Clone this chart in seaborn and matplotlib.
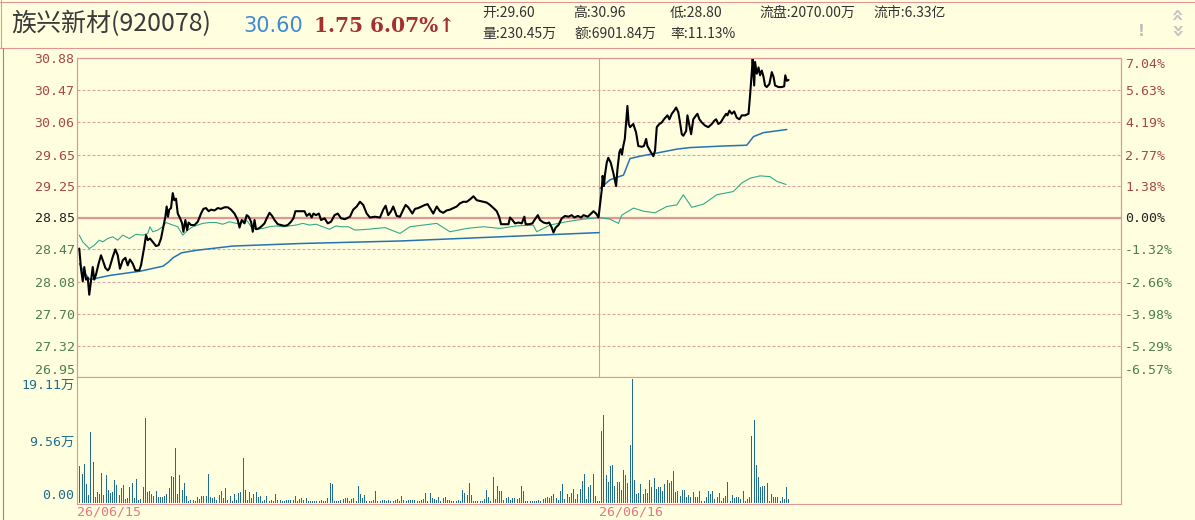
import matplotlib

matplotlib.use("Agg")
import matplotlib.pyplot as plt
import numpy as np
import seaborn as sns
from matplotlib.lines import Line2D

sns.set_style("white")
plt.rcParams["font.family"] = ["Noto Sans CJK SC", "DejaVu Sans"]
plt.rcParams["axes.unicode_minus"] = False

# ---------------- datos ----------------
stock_name = "族兴新材(920078)"
last_price = "30.60"
change_text = "1.75 6.07%↑"
info_row1 = ["开:29.60", "高:30.96", "低:28.80", "流盘:2070.00万", "流市:6.33亿"]
info_row2 = ["量:230.45万", "额:6901.84万", "率:11.13%"]

pre_close = 28.85
price_ticks = [26.95, 27.32, 27.70, 28.08, 28.47, 28.85, 29.25, 29.65, 30.06, 30.47, 30.88]
price_labels = ["26.95", "27.32", "27.70", "28.08", "28.47", "28.85", "29.25", "29.65", "30.06", "30.47", "30.88"]
pct_labels = ["-6.57%", "-5.29%", "-3.98%", "-2.66%", "-1.32%", "0.00%", "1.38%", "2.77%", "4.19%", "5.63%", "7.04%"]
vol_ticks = [0.0, 9.56, 19.11]
vol_labels = ["0.00", "9.56万", "19.11万"]
date_ticks = [0, 240]
date_labels = ["26/06/15", "26/06/16"]

# precio (minuto, valor)
price_t = [
    0.9, 1.7, 2.5, 3.2, 4.0, 4.8, 5.5, 6.3, 7.1, 7.8, 8.6, 9.8, 10.9, 12.0, 12.9, 14.0, 14.7, 16.3, 17.5,
    18.6, 19.6, 20.9, 22.1, 23.2, 24.2, 25.5, 26.7, 28.5, 29.3, 30.8, 31.6, 32.4, 33.4, 34.7, 36.2, 37.4,
    38.5, 39.6, 40.5, 41.1, 41.7, 42.3, 43.1, 43.9, 44.6, 45.4, 46.2, 47.3, 48.2, 48.8, 49.7, 50.5, 51.2,
    52.3, 53.9, 55.4, 56.9, 58.0, 59.2, 60.4, 61.5, 63.1, 64.6, 66.1, 67.7, 69.2, 70.7, 72.3, 73.8, 74.6,
    75.6, 76.9, 77.9, 78.8, 79.9, 80.7, 81.5, 82.2, 83.5, 84.5, 86.1, 87.1, 88.4, 89.6, 90.7, 92.2, 93.7,
    95.3, 96.8, 98.3, 99.4, 100.3, 102.2, 104.5, 105.5, 106.8, 107.8, 108.6, 109.8, 111.1, 112.1, 113.7,
    115.2, 116.7, 118.3, 119.8, 121.3, 123.1, 125.4, 126.9, 128.5, 130.0, 131.5, 133.1, 134.6, 136.9,
    139.2, 140.7, 141.8, 143.0, 144.3, 145.3, 146.9, 148.4, 149.9, 151.0, 152.2, 154.1, 155.3, 156.8,
    158.4, 159.9, 161.1, 162.2, 163.7, 165.3, 166.8, 168.3, 169.9, 171.4, 173.0, 174.5, 176.0, 177.5,
    179.1, 180.6, 182.2, 183.7, 185.2, 186.8, 188.3, 189.8, 191.4, 192.9, 194.0, 194.9, 196.7, 198.3,
    199.0, 200.1, 201.3, 202.9, 204.4, 205.6, 206.2, 207.8, 209.3, 210.5, 211.8, 212.8, 214.4, 215.9,
    217.0, 218.2, 219.0, 220.0, 221.3, 222.8, 224.3, 225.9, 227.4, 228.6, 230.2, 231.7, 232.8, 234.8,
    236.3, 237.4, 238.6, 239.7,
    240.4, 241.2, 241.6, 242.2, 242.7, 243.5, 244.2, 245.3, 246.5, 247.8, 248.4, 249.3, 249.9, 250.5,
    251.1, 251.8, 252.4, 253.0, 253.6, 254.2, 255.7, 257.0, 258.0, 259.6, 260.6, 261.6, 262.2, 263.4,
    264.9, 265.7, 266.5, 267.7, 268.8, 269.8, 271.4, 272.3, 273.4, 274.5, 275.4, 276.4, 277.2, 278.0,
    278.7, 280.0, 280.6, 281.5, 282.3, 283.3, 284.6, 285.2, 286.1, 287.2, 288.7, 290.2, 291.8, 292.9,
    293.8, 294.8, 295.9, 297.2, 298.4, 299.0, 299.9, 301.0, 302.1, 303.3, 304.5, 305.6, 307.1, 308.7,
    309.4, 310.2, 310.6, 311.3, 311.7, 312.5, 313.3, 314.0, 314.8, 315.6, 316.3, 317.1, 318.3, 319.4,
    320.2, 320.9, 322.5, 324.0, 325.1, 325.6, 326.3, 327.1,
]
price_v = [
    28.48, 28.24, 28.09, 28.26, 28.11, 28.13, 27.93, 28.09, 28.26, 28.11, 28.17, 28.30, 28.40, 28.32, 28.25,
    28.22, 28.24, 28.38, 28.47, 28.40, 28.24, 28.34, 28.37, 28.28, 28.35, 28.30, 28.22, 28.22, 28.28, 28.50,
    28.64, 28.58, 28.60, 28.56, 28.51, 28.52, 28.60, 28.74, 28.86, 28.99, 28.86, 28.95, 28.97, 29.16, 29.07,
    29.09, 28.90, 28.84, 28.78, 28.68, 28.82, 28.70, 28.79, 28.76, 28.76, 28.80, 28.90, 28.96, 28.97, 28.93,
    28.95, 28.94, 28.97, 28.96, 28.98, 28.98, 28.95, 28.90, 28.82, 28.73, 28.82, 28.78, 28.88, 28.86, 28.80,
    28.68, 28.82, 28.71, 28.72, 28.74, 28.78, 28.84, 28.91, 28.87, 28.82, 28.77, 28.76, 28.75, 28.76, 28.80,
    28.84, 28.93, 28.93, 28.93, 28.87, 28.90, 28.85, 28.90, 28.88, 28.90, 28.82, 28.84, 28.78, 28.80, 28.88,
    28.90, 28.84, 28.83, 28.86, 28.95, 28.99, 29.05, 29.01, 28.90, 28.85, 28.86, 28.85, 28.95, 29.00, 28.88,
    28.93, 28.99, 28.87, 28.86, 28.95, 29.01, 28.98, 28.90, 28.96, 28.97, 28.99, 29.01, 29.02, 28.97, 28.90,
    28.99, 28.93, 28.91, 28.94, 28.95, 28.97, 28.99, 29.03, 29.05, 29.05, 29.08, 29.12, 29.07, 29.06, 29.05,
    29.04, 29.01, 28.97, 28.93, 28.86, 28.77, 28.77, 28.77, 28.85, 28.82, 28.78, 28.79, 28.78, 28.86, 28.77,
    28.77, 28.78, 28.83, 28.88, 28.82, 28.79, 28.78, 28.79, 28.73, 28.67, 28.73, 28.76, 28.84, 28.87, 28.86,
    28.88, 28.85, 28.87, 28.85, 28.88, 28.86, 28.90, 28.93, 28.90, 28.85,
    29.01, 29.20, 29.38, 29.25, 29.40, 29.55, 29.61, 29.55, 29.42, 29.25, 29.46, 29.68, 29.72, 29.65, 29.76,
    29.85, 30.06, 30.27, 30.04, 30.00, 30.04, 29.93, 29.76, 29.75, 29.76, 29.85, 29.76, 29.70, 29.63, 29.70,
    30.00, 30.04, 30.06, 30.10, 30.15, 30.10, 30.17, 30.21, 30.25, 30.19, 30.06, 29.91, 29.89, 29.95, 30.15,
    30.02, 29.91, 30.10, 30.15, 30.17, 30.10, 30.06, 30.02, 30.00, 30.04, 30.08, 30.10, 30.04, 30.06, 30.12,
    30.17, 30.15, 30.21, 30.17, 30.20, 30.12, 30.10, 30.15, 30.15, 30.17, 30.40, 30.70, 30.87, 30.53, 30.83,
    30.68, 30.76, 30.66, 30.72, 30.64, 30.53, 30.51, 30.55, 30.70, 30.64, 30.53, 30.51, 30.51, 30.52, 30.66,
    30.59, 30.60,
]

# precio medio, un tramo por dia
avg1_t = [1.0, 3.0, 5.8, 15.0, 28.8, 39.4, 42.0, 44.0, 48.0, 55.0, 71.6, 102.4, 148.4, 194.4, 240.0]
avg1_v = [28.30, 28.20, 28.11, 28.16, 28.21, 28.27, 28.32, 28.37, 28.43, 28.46, 28.51, 28.54, 28.57, 28.62, 28.67]
avg2_t = [240.4, 245.0, 251.2, 254.2, 258.8, 266.5, 275.7, 281.8, 297.2, 307.9, 311.0, 315.6, 326.3]
avg2_v = [29.22, 29.33, 29.39, 29.60, 29.63, 29.67, 29.72, 29.74, 29.76, 29.77, 29.88, 29.93, 29.97]

# linea fina verde azulada (indice superpuesto)
idx_t = [
    0.9, 2.5, 5.5, 7.8, 10.1, 11.7, 14.0, 16.3, 18.6, 20.9, 23.9, 27.0, 30.1, 32.4, 33.4, 34.7, 37.0, 39.3,
    40.8, 43.9, 46.2, 48.5, 50.8, 53.1, 55.4, 57.7, 60.8, 63.8, 66.9, 70.0, 73.0, 75.3, 76.9, 78.4, 79.9,
    82.2, 85.3, 88.4, 91.4, 94.5, 97.6, 100.6, 103.7, 106.8, 109.8, 112.9, 116.0, 119.0, 121.3, 124.6,
    127.7, 133.8, 141.5, 148.4, 153.0, 165.3, 171.4, 179.1, 186.8, 194.4, 202.1, 209.7, 211.3, 217.4,
    225.1, 232.7, 240.0, 245.0, 248.9, 250.4, 255.8, 260.4, 265.7, 271.1, 275.7, 278.7, 282.6, 288.0,
    294.1, 301.7, 305.6, 309.4, 314.0, 318.6, 321.7, 326.0,
]
idx_v = [
    28.64, 28.56, 28.48, 28.52, 28.58, 28.56, 28.60, 28.62, 28.58, 28.64, 28.60, 28.65, 28.64, 28.66, 28.74,
    28.68, 28.70, 28.74, 28.79, 28.76, 28.74, 28.64, 28.70, 28.74, 28.76, 28.78, 28.79, 28.79, 28.77, 28.80,
    28.78, 28.78, 28.83, 28.80, 28.74, 28.71, 28.72, 28.74, 28.75, 28.74, 28.75, 28.76, 28.78, 28.76, 28.77,
    28.74, 28.71, 28.75, 28.74, 28.74, 28.70, 28.71, 28.73, 28.66, 28.74, 28.78, 28.68, 28.72, 28.74, 28.72,
    28.75, 28.76, 28.68, 28.76, 28.80, 28.83, 28.85, 28.83, 28.78, 28.88, 28.97, 28.93, 28.91, 28.99, 29.01,
    29.14, 28.98, 29.02, 29.14, 29.18, 29.29, 29.35, 29.38, 29.37, 29.31, 29.27,
]

# volumen por minuto (万股)
vol_day1 = [
    5.57, 4.44, 5.88, 2.79, 1.08, 10.84, 6.19, 0.83, 1.55, 1.34,
    4.49, 1.14, 4.18, 1.96, 1.44, 1.55, 3.41, 2.63, 1.19, 2.17,
    2.63, 0.52, 0.62, 2.37, 2.94, 0.72, 3.56, 0.41, 0.52, 2.37,
    13.0, 1.55, 1.70, 1.34, 0.93, 1.70, 0.88, 0.83, 0.83, 0.93,
    1.34, 2.17, 4.02, 3.87, 8.36, 1.24, 4.18, 1.96, 2.94, 0.93,
    0.15, 0.31, 0.41, 0.15, 0.77, 0.52, 1.03, 0.93, 0.93, 4.39,
    0.88, 0.67, 0.83, 0.31, 1.14, 1.70, 0.67, 2.17, 0.31, 0.93,
    0.26, 1.34, 0.31, 1.44, 1.60, 6.86, 1.96, 0.31, 1.55, 0.67,
    1.24, 1.55, 0.83, 1.03, 0.15, 0.41, 1.03, 0.21, 0.41, 0.15,
    1.24, 0.41, 0.31, 0.21, 0.15, 0.31, 0.41, 0.41, 0.41, 0.93,
    0.15, 0.52, 0.72, 0.31, 0.62, 0.15, 0.15, 0.15, 0.15, 0.15,
    0.21, 0.31, 0.15, 0.21, 0.62, 2.99, 2.79, 0.15, 0.21, 0.15,
    0.31, 0.52, 0.62, 0.62, 0.15, 0.52, 0.72, 0.21, 2.48, 1.29,
    0.67, 1.14, 0.15, 0.26, 0.21, 0.41, 1.70, 0.15, 0.21, 0.31,
    0.31, 0.15, 0.41, 0.21, 0.15, 0.41, 0.52, 0.21, 0.93, 0.31,
    0.15, 0.31, 0.41, 0.31, 0.41, 0.21, 0.15, 0.31, 0.52, 1.44,
    0.21, 1.44, 0.67, 0.52, 0.41, 0.83,
    0.26, 0.68, 0.89, 0.36, 0.36, 0.16, 0.26, 0.26, 0.36, 0.26,
    1.98, 1.51, 1.20, 3.07, 1.20, 0.26, 0.16, 0.26, 0.16, 0.26,
    0.52, 1.98, 0.78, 0.26, 3.91, 0.52, 2.61, 1.82, 1.72, 0.36,
    0.68, 0.78, 0.36, 0.68, 0.68, 0.52, 0.68, 2.50, 1.82, 0.26,
    0.16, 0.16, 0.16, 0.16, 0.26, 0.36, 0.16, 0.52, 0.68, 0.78,
    0.68, 0.99, 1.30, 0.68, 0.36, 1.82, 2.87, 0.52, 1.30, 0.78,
    1.51, 2.08, 0.52, 1.30, 2.03, 3.28, 4.43, 0.52, 2.34, 2.76,
    4.32, 1.04, 0.16, 0.16,
]
vol_day2 = [
    11.05, 13.55, 4.17, 3.13, 5.57, 5.73, 2.61, 3.23, 3.13, 1.93,
    4.95, 4.17, 3.02, 8.86, 19.11, 3.39, 1.30, 1.41, 2.87, 1.30,
    2.08, 1.41, 3.39, 2.45, 3.80, 2.08, 2.45, 2.45, 1.82, 2.87,
    3.39, 2.97, 3.28, 4.79, 1.56, 1.72, 1.04, 1.93, 1.93, 0.89,
    1.20, 0.89, 1.56, 0.89, 0.89, 1.72, 0.16, 0.26, 0.78, 1.72,
    1.30, 1.82, 0.47, 0.78, 1.41, 0.26, 0.68, 1.04, 3.13, 0.26,
    1.20, 0.68, 0.78, 0.89, 0.52, 1.82, 0.26, 0.52, 0.78, 10.26,
    12.76, 5.73, 3.91, 2.45, 2.61, 2.61, 2.97, 0.26, 1.30, 0.78,
    0.89, 0.89, 0.26, 0.89, 0.52, 2.34, 0.52,
]
if len(vol_day1) != 240:
    raise ValueError(f"vol_day1 tiene {len(vol_day1)} valores")

# ---------------- colores ----------------
BG = "#FFFFE0"
FRAME = "#E39494"
GRID = "#DDA0A0"
UP = "#A8484A"
DOWN = "#4E7F4E"
FLAT = "#222222"
VOLC = "#1F6E8C"
AVGC = "#2673B0"
IDXC = "#35A88C"

W, H = 1195, 520


def box(x0, y0, x1, y1):
    return [x0 / W, 1 - y1 / H, (x1 - x0) / W, (y1 - y0) / H]


# escala lineal por tramos: mitad superior e inferior en torno al cierre anterior
top, bot = price_ticks[-1], price_ticks[0]


def fwd(p):
    p = np.asarray(p, dtype=float)
    return np.where(p >= pre_close, (p - pre_close) / (top - pre_close), (p - pre_close) / (pre_close - bot)) * 5


def inv(u):
    u = np.asarray(u, dtype=float)
    return np.where(u >= 0, pre_close + u / 5 * (top - pre_close), pre_close + u / 5 * (pre_close - bot))


fig = plt.figure(figsize=(W / 100, H / 100), dpi=100, facecolor=BG)
ax = fig.add_axes(box(77.3, 58, 1121, 377), facecolor=BG)
axv = fig.add_axes(box(77.3, 377, 1121, 503.7), facecolor=BG, sharex=ax)

# ---------------- panel de precio ----------------
ax.set_yscale("function", functions=(fwd, inv))
ax.set_ylim(bot, top)
ax.set_xlim(0, 480)
ax.set_yticks(price_ticks)
ax.set_yticklabels(price_labels)
ax.grid(axis="y", color=GRID, linestyle=(0, (2.7, 1.8)), linewidth=0.8)
ax.grid(axis="x", visible=False)
ax.axhline(pre_close, color=FRAME, lw=1.6, zorder=1.5)
ax.axvline(240, color=FRAME, lw=0.8, zorder=1.5)

sns.lineplot(x=idx_t, y=idx_v, ax=ax, color=IDXC, lw=0.8, estimator=None, sort=False, zorder=3)
sns.lineplot(x=avg1_t, y=avg1_v, ax=ax, color=AVGC, lw=1.1, estimator=None, sort=False, zorder=3)
sns.lineplot(x=avg2_t, y=avg2_v, ax=ax, color=AVGC, lw=1.1, estimator=None, sort=False, zorder=3)
sns.lineplot(x=price_t, y=price_v, ax=ax, color="black", lw=1.5, estimator=None, sort=False, zorder=4)
ax.set_xlabel("")
ax.set_ylabel("")

ax.tick_params(axis="y", length=0, pad=2, labelsize=9.5)
ax.tick_params(axis="x", length=0, labelbottom=False)
for lab, val in zip(ax.get_yticklabels(), price_ticks):
    lab.set_fontfamily("DejaVu Sans Mono")
    lab.set_color(UP if val > pre_close else DOWN if val < pre_close else FLAT)
ax.get_yticklabels()[0].set_va("bottom")

ax2 = ax.twinx()
ax2.set_yscale("function", functions=(fwd, inv))
ax2.set_ylim(bot, top)
ax2.set_yticks(price_ticks)
ax2.set_yticklabels(pct_labels)
ax2.tick_params(axis="y", length=0, pad=3, labelsize=9.5)
for lab, val in zip(ax2.get_yticklabels(), price_ticks):
    lab.set_fontfamily("DejaVu Sans Mono")
    lab.set_color(UP if val > pre_close else DOWN if val < pre_close else FLAT)
ax2.get_yticklabels()[0].set_va("bottom")
ax2.get_yticklabels()[-1].set_va("top")

for a in (ax, ax2, axv):
    for s in a.spines.values():
        s.set_color(FRAME)
        s.set_linewidth(0.8)

# ---------------- panel de volumen ----------------
vol_t = list(range(1, len(vol_day1) + len(vol_day2) + 1))
vol_all = vol_day1 + vol_day2
# barras de 1 px: lineas verticales ajustadas a la rejilla de pixeles
axv.vlines(vol_t, 0, vol_all, colors=VOLC, linewidth=0.72, antialiased=False, snap=True)
axv.set_xlim(0, 480)
axv.set_ylim(-0.2, 19.4)
axv.set_yticks(vol_ticks)
axv.set_yticklabels(vol_labels)
axv.set_xticks(date_ticks)
axv.set_xticklabels(date_labels, ha="left")
axv.tick_params(axis="y", length=0, pad=2, labelsize=9.5, labelcolor=VOLC)
axv.tick_params(axis="x", length=3, width=0.8, color=FRAME, pad=-2, labelsize=9.5, labelcolor="#E07A7A")
for lab in axv.get_yticklabels() + axv.get_xticklabels():
    lab.set_fontfamily(["DejaVu Sans Mono", "Noto Sans CJK SC"])
axv.get_yticklabels()[0].set_va("bottom")
axv.get_yticklabels()[-1].set_va("top")
axv.spines["top"].set_visible(False)

# ---------------- cabecera ----------------
def px(x, y):
    return x / W, 1 - y / H


fig.text(*px(11, 24), stock_name, fontsize=18, color="#3A3A3A", va="center", ha="left")
fig.text(*px(243, 26), last_price, fontsize=15, color="#3C8AD8", va="center", ha="left",
         family="DejaVu Sans")
fig.text(*px(314, 26), change_text, fontsize=14.5, color="#A3302F", va="center", ha="left",
         weight="bold", family=["DejaVu Serif", "DejaVu Sans"])
for xpos, txt in zip([482, 573, 670, 759, 873], info_row1):
    fig.text(*px(xpos, 13), txt, fontsize=10, color="#333333", va="center", ha="left")
for xpos, txt in zip([482, 574, 670], info_row2):
    fig.text(*px(xpos, 34), txt, fontsize=10, color="#333333", va="center", ha="left")

fig.text(*px(1176, 12), "»", rotation=90, fontsize=15, color="#C4C4C4", weight="bold",
         ha="center", va="center", family="DejaVu Sans")
fig.text(*px(1176, 32), "»", rotation=-90, fontsize=15, color="#C4C4C4", weight="bold",
         ha="center", va="center", family="DejaVu Sans")
fig.text(*px(1141, 32), "!", fontsize=11, color="#BDBDBD", weight="bold",
         ha="center", va="center", family="DejaVu Sans")

# marcos de la ventana
for ys in (1.5, 47.5):
    fig.add_artist(Line2D([0, 1], [1 - ys / H] * 2, color=FRAME, lw=0.8, transform=fig.transFigure))
fig.add_artist(Line2D([0.5 / W] * 2, [1 - 47.5 / H, 1], color=FRAME, lw=0.8, transform=fig.transFigure))
fig.add_artist(Line2D([2.5 / W] * 2, [0, 1 - 48 / H], color="#8C8C8C", lw=0.8, transform=fig.transFigure))

fig.savefig("out.png", dpi=100, facecolor=BG)
